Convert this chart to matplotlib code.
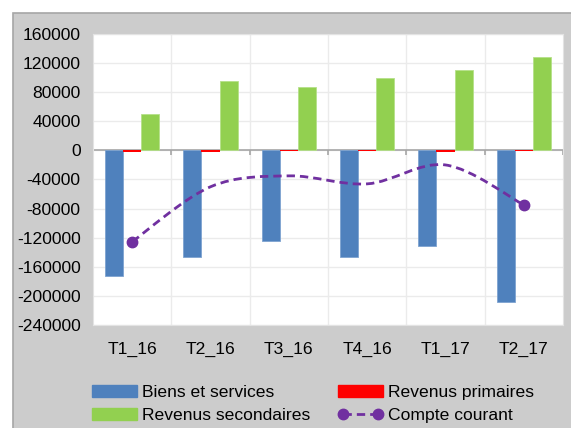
import numpy as np
import matplotlib.pyplot as plt
from matplotlib.path import Path
from matplotlib.patches import PathPatch, Rectangle, Patch
from matplotlib.lines import Line2D

plt.rcParams['font.family'] = ['Liberation Sans', 'DejaVu Sans']

quarters = ["T1_16", "T2_16", "T3_16", "T4_16", "T1_17", "T2_17"]
biens_services = [-173000, -146000, -124000, -146000, -132000, -208000]
revenus_primaires = [-2500, -2000, -300, -400, -2500, -600]
revenus_secondaires = [50000, 95000, 87000, 99000, 111000, 128000]
compte_courant = [-125500, -50000, -35000, -46000, -20000, -75000]

blue = "#4F81BD"
red = "#FF0000"
green = "#92D050"
purple = "#7030A0"
fs = 12.6


def smooth_path(xs, ys):
    # excel-like smoothed line (catmull-rom as bezier segments)
    pts = np.column_stack([xs, ys]).astype(float)
    ext = np.vstack([pts[0], pts, pts[-1]])
    verts = [pts[0]]
    codes = [Path.MOVETO]
    for i in range(len(pts) - 1):
        p0, p1, p2, p3 = ext[i], ext[i + 1], ext[i + 2], ext[i + 3]
        verts += [p1 + (p2 - p0) / 6, p2 - (p3 - p1) / 6, p2]
        codes += [Path.CURVE4] * 3
    return Path(verts, codes)


fig = plt.figure(figsize=(5.71, 4.28), dpi=100)
fig.patch.set_facecolor("white")
bg = Rectangle((13 / 571, -0.05), 1.1, 1.05 - 13 / 428, transform=fig.transFigure,
               facecolor="#CCCCCC", edgecolor="#A6A6A6", lw=1.2, zorder=-1)
fig.add_artist(bg)

ax = fig.add_axes([93 / 571, 1 - 325 / 428, 470 / 571, 291 / 428])
ax.set_facecolor("white")

x = np.arange(len(quarters))
w = 0.23
ax.bar(x - w, biens_services, w, color=blue, edgecolor="#7EA3D0", lw=0.6, zorder=2)
ax.bar(x, revenus_primaires, w, color=red, lw=0, zorder=2)
ax.bar(x + w, revenus_secondaires, w, color=green, edgecolor="#B5E08A", lw=0.6, zorder=2)

line = PathPatch(smooth_path(x, compte_courant), fill=False, edgecolor=purple,
                 lw=2.0, linestyle=(0, (3, 1.8)), zorder=3)
ax.add_patch(line)
ax.plot(x, compte_courant, linestyle="none", marker="o", markersize=7.5,
        color=purple, markevery=[0, len(x) - 1], zorder=4)

ax.set_xlim(-0.5, len(quarters) - 0.5)
ax.set_ylim(-240000, 160000)
ax.set_yticks(np.arange(-240000, 160001, 40000))
ax.set_yticklabels([str(v) for v in np.arange(-240000, 160001, 40000)])
ax.set_xticks(x)
ax.set_xticklabels(quarters)
ax.tick_params(axis="both", length=0, labelsize=fs)
ax.tick_params(axis="y", pad=9)
ax.tick_params(axis="x", pad=12)

for v in np.arange(-240000, 160001, 40000):
    ax.axhline(v, color="#EBEBEB", lw=1, zorder=0)
for b in np.arange(0.5, len(quarters) - 0.5, 1):
    ax.axvline(b, color="#EBEBEB", lw=1, zorder=0)
ax.axhline(0, color="#A6A6A6", lw=1.2, zorder=1.5)
ax.vlines(np.arange(-0.5, len(quarters), 1), -6500, 0, colors="#A6A6A6", lw=1.2, zorder=1.5)

for s in ax.spines.values():
    s.set_color("#E3E3E3")

handles = [
    Patch(color=blue),
    Patch(color=green),
    Patch(color=red),
    Line2D([], [], color=purple, lw=2.0, linestyle=(0, (3, 1.8)), marker="o", markersize=7.5),
]
labels = ["Biens et services", "Revenus secondaires", "Revenus primaires", "Compte courant"]
fig.legend(handles, labels, ncol=2, loc="upper left", bbox_to_anchor=(92 / 571, 1 - 385 / 428),
           frameon=False, fontsize=fs, handlelength=2.55, handletextpad=0.3, numpoints=2,
           columnspacing=1.6, labelspacing=0.42, borderpad=0, borderaxespad=0)

fig.savefig("out.png", dpi=100)
